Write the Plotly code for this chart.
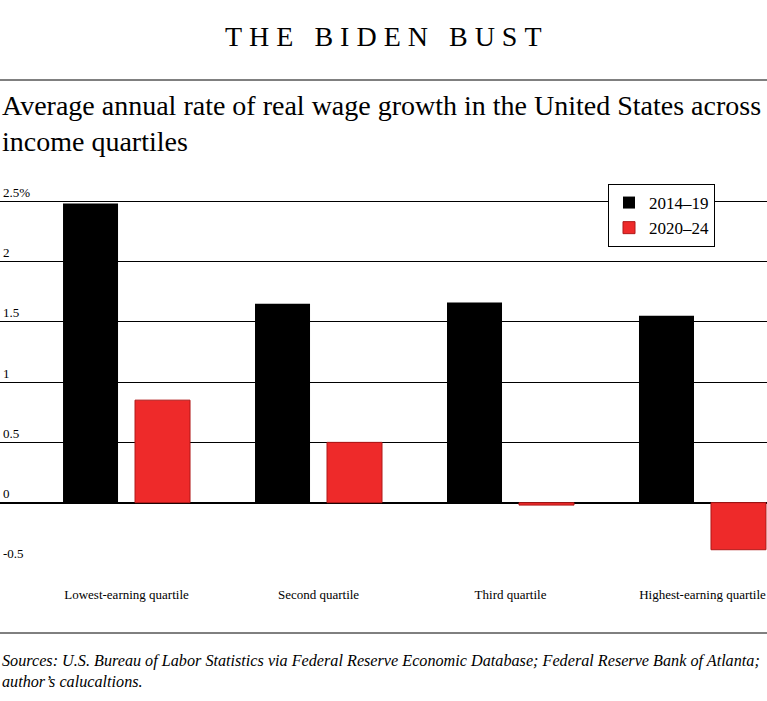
import plotly.graph_objects as go

categories = ["Lowest-earning quartile", "Second quartile", "Third quartile", "Highest-earning quartile"]
series_names = ["2014–19", "2020–24"]
values_2014_19 = [2.48, 1.65, 1.66, 1.55]
values_2020_24 = [0.85, 0.50, -0.02, -0.39]
ytick_vals = [-0.5, 0, 0.5, 1, 1.5, 2, 2.5]
ytick_text = ["-0.5", "0", "0.5", "1", "1.5", "2", "2.5%"]

W, H = 767, 701
MT, MB = 183, 138
PH = H - MT - MB

def py(p):
    return (H - MB - p) / PH

SERIF = "Liberation Serif, Times New Roman, serif"

fig = go.Figure()
fig.add_trace(go.Bar(name=series_names[0], x=categories, y=values_2014_19,
                     marker=dict(color="#000000", line=dict(width=0))))
fig.add_trace(go.Bar(name=series_names[1], x=categories, y=values_2020_24,
                     marker=dict(color="#ee2a2a", line=dict(color="#b01818", width=1))))

title_txt = "\u2005".join(list("THE BIDEN BUST"))

fig.update_layout(
    width=W, height=H,
    margin=dict(l=0, r=0, t=MT, b=MB, pad=0),
    paper_bgcolor="white", plot_bgcolor="white",
    barmode="group", bargap=0.25, bargroupgap=0.236,
    font=dict(family=SERIF, color="black"),
    showlegend=True,
    legend=dict(x=608 / W, y=py(184), xanchor="left", yanchor="top",
                bgcolor="white", bordercolor="black", borderwidth=1,
                font=dict(size=17, family=SERIF), tracegroupgap=0,
                itemwidth=30),
    xaxis=dict(range=[-0.659, 3.336], showgrid=False, zeroline=False,
               showline=False, ticks="", tickfont=dict(size=13, family=SERIF),
               ticklabelstandoff=22),
    yaxis=dict(range=[-0.5, 2.65], tickvals=ytick_vals, ticktext=ytick_text,
               ticklabelposition="inside top", showgrid=True, gridcolor="black",
               gridwidth=1, zeroline=True, zerolinecolor="black", zerolinewidth=2,
               showline=False, ticks="", tickfont=dict(size=13, family=SERIF, color="black")),
    annotations=[
        dict(text=title_txt, xref="paper", yref="paper", x=0.5, y=py(37),
             xanchor="center", yanchor="middle", showarrow=False,
             font=dict(size=28, family=SERIF)),
        dict(text="Average annual rate of real wage growth in the United States across<br>income quartiles",
             xref="paper", yref="paper", x=0, y=py(88), xanchor="left", yanchor="top",
             align="left", showarrow=False, font=dict(size=28, family=SERIF)),
        dict(text="<i>Sources: U.S. Bureau of Labor Statistics via Federal Reserve Economic Database; Federal Reserve Bank of Atlanta;<br>author’s calucaltions.</i>",
             xref="paper", yref="paper", x=0, y=py(650), xanchor="left", yanchor="top",
             align="left", showarrow=False, font=dict(size=16.2, family=SERIF)),
    ],
    shapes=[
        dict(type="line", xref="paper", yref="paper", x0=0, x1=1, y0=py(80), y1=py(80),
             line=dict(color="black", width=1)),
        dict(type="line", xref="paper", yref="paper", x0=0, x1=1, y0=py(633), y1=py(633),
             line=dict(color="black", width=1)),
    ],
)

fig.write_html("out.html",
               config={"displayModeBar": False},
               post_script="document.body.style.margin='0';document.body.style.overflow='hidden';")
